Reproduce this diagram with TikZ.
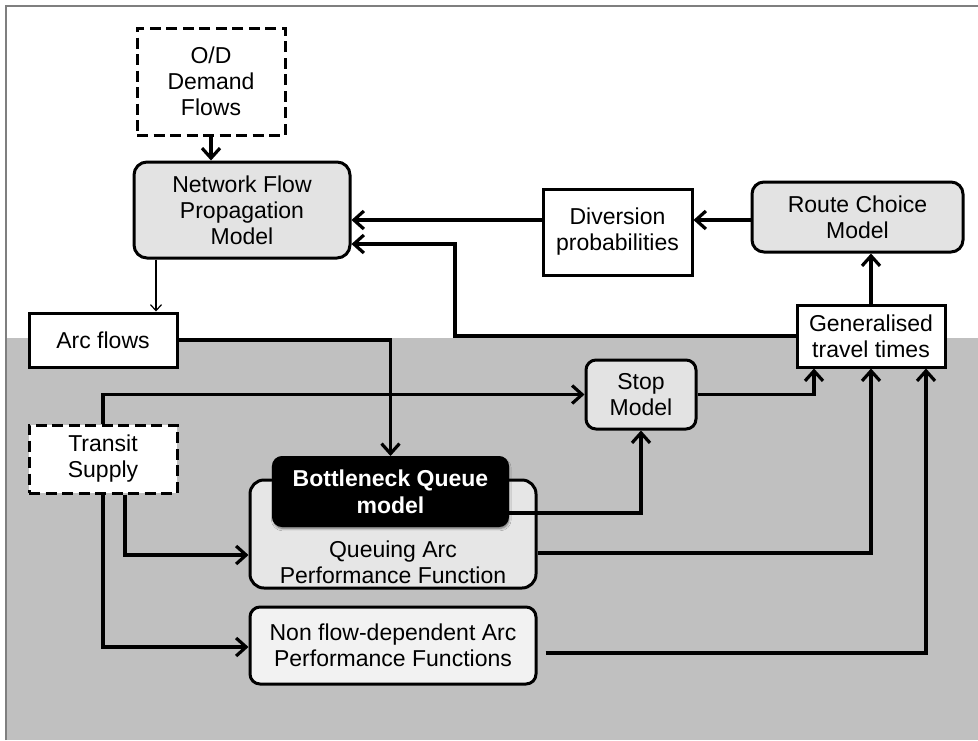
\documentclass[tikz,border=0pt]{standalone}
\usepackage{fontspec}
\setmainfont{Liberation Sans}
\usetikzlibrary{arrows.meta,shadows.blur}

\definecolor{bggray}{HTML}{C0C0C0}
\definecolor{modelgray}{HTML}{E3E3E3}
\definecolor{qgray}{HTML}{E6E6E6}
\definecolor{nfgray}{HTML}{F2F2F2}
\definecolor{framegray}{HTML}{7F7F7F}

\begin{document}
\begin{tikzpicture}[x=0.5pt,y=-0.5pt,
  every node/.style={font=\fontsize{11.5}{13}\selectfont, align=center, inner sep=0pt},
  sz/.style 2 args={minimum width=#1*0.5pt, minimum height=#2*0.5pt},
  plainbox/.style={draw, fill=white, line width=1.5pt, rectangle},
  modelbox/.style={draw, fill=modelgray, line width=1.5pt, rounded corners=6pt},
  dashbox/.style={draw, fill=white, line width=1.5pt, dash pattern=on 5.5pt off 2.75pt},
  bottlebox/.style={draw=black, fill=black, text=white, line width=1pt, rounded corners=4.5pt,
    font=\bfseries\fontsize{11.5}{13.5}\selectfont,
    blur shadow={shadow xshift=0.4pt, shadow yshift=-1.2pt, shadow blur radius=1.2pt,
      shadow blur steps=5, shadow opacity=55}},
  flow/.style={line width=1.6pt, -{Straight Barb[length=5pt,width=9pt]}},
  thinflow/.style={line width=0.6pt, -{Straight Barb[length=3pt,width=5.5pt]}}
]
\useasboundingbox (0,0) rectangle (978,740);

% background: white upper band, grey lower band, frame lines
\fill[white] (0,0) rectangle (978,740);
\fill[bggray] (6,338) rectangle (978,740);
\draw[framegray, line width=1pt] (5.5,740) -- (5.5,5.5) -- (978,5.5);

% boxes
\node[dashbox, sz={148}{107}] (od) at (211,81.5) {O/D\\Demand\\Flows};
\node[modelbox, sz={216}{96}, rounded corners=6.5pt] (nfpm) at (242,210) {Network Flow\\Propagation\\Model};
\node[plainbox, sz={148}{54}] (arc) at (103,340) {Arc flows};
\node[plainbox, sz={149}{86}] (div) at (617.5,232) {Diversion\\probabilities};
\node[modelbox, sz={211}{70}] (route) at (857.5,217) {Route Choice\\Model};
\node[plainbox, sz={148}{62}] (gtt) at (871,336) {Generalised\\travel times};
\node[modelbox, sz={110}{69}, rounded corners=5pt] (stop) at (641,394.5) {Stop\\Model};
\node[dashbox, sz={148}{68}] (transit) at (103,459) {Transit\\Supply};
\node[modelbox, fill=qgray, sz={286}{108}, rounded corners=7pt] (queue) at (393,534) {};
\node (queuetext) at (393,562) {Queuing Arc\\Performance Function};
\node[bottlebox, sz={235}{69}] (bneck) at (390.5,491.5) {Bottleneck Queue\\model};
\node[modelbox, fill=nfgray, sz={286}{77}, rounded corners=5pt] (nonflow) at (393,645.5) {Non flow-dependent Arc\\Performance Functions};

% bend and offset coordinates
\coordinate (cA) at (156,0);
\coordinate (yDiv) at (0,220);
\coordinate (loopx) at (455,244);
\coordinate (g1) at (814,0);
\coordinate (bq) at (447,513);
\coordinate (t1) at (125,555);
\coordinate (t2) at (103,647);
\coordinate (q1) at (0,553);
\coordinate (n1) at (926,653);

% connectors
\draw[flow] (od.south) -- (od.south |- nfpm.north);
\draw[thinflow] (nfpm.south -| cA) -- (arc.north -| cA);
\draw[flow] (route.west |- yDiv) -- (div.east |- yDiv);
\draw[flow] (div.west |- yDiv) -- (nfpm.east |- yDiv);
\draw[flow] (gtt.north) -- (gtt.north |- route.south);
\draw[flow] (gtt.west) -| (loopx) -- (nfpm.east |- loopx);
\draw[flow] (arc.east) -| (bneck.north);
\draw[flow] (transit.north) |- (stop.west);
\draw[flow] (stop.east) -| (gtt.south -| g1);
\draw[flow] (bq) -| (stop.south);
\draw[flow] (transit.south -| t1) |- (queue.west |- t1);
\draw[flow] (transit.south) |- (nonflow.west |- t2);
\draw[flow] (queue.east |- q1) -| (gtt.south);
\draw[flow] ([xshift=4pt]nonflow.east |- n1) -| (gtt.south -| n1);
\end{tikzpicture}
\end{document}
